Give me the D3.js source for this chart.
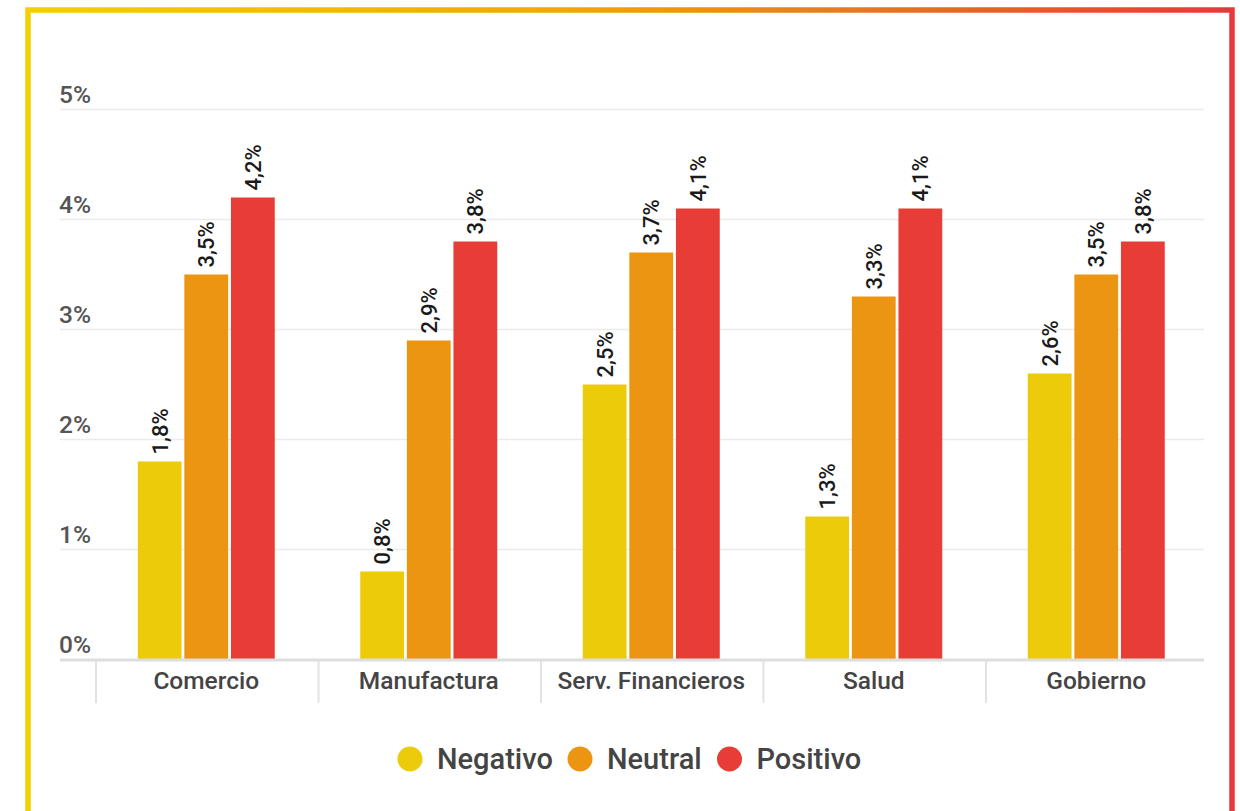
<!DOCTYPE html>
<meta charset="utf-8">
<style>
  body { margin: 0; background: #fff; }
  text { font-family: Roboto, sans-serif; font-weight: 500; }
  .tick-label { font-size: 24.5px; fill: #555; }
  .cat-label { font-size: 24.5px; fill: #444; text-anchor: middle; }
  .val-label { font-size: 22px; fill: #1a1a1a; }
  .legend-label { font-size: 29px; fill: #444; }
</style>
<body>
<script src="https://d3js.org/d3.v7.min.js"></script>
<script>

var width = 1240,
    height = 811;

var categories = ["Comercio", "Manufactura", "Serv. Financieros", "Salud", "Gobierno"];
var series = ["Negativo", "Neutral", "Positivo"];
var negativo = [1.8, 0.8, 2.5, 1.3, 2.6];
var neutral = [3.5, 2.9, 3.7, 3.3, 3.5];
var positivo = [4.2, 3.8, 4.1, 4.1, 3.8];
var yTicks = [0, 1, 2, 3, 4, 5];
var colors = ["#ECCB0B", "#EB9512", "#E83D36"];

var values = [negativo, neutral, positivo];

var svg = d3.select("body").append("svg")
  .attr("width", width)
  .attr("height", height);

// frame with gradient border
var grad = svg.append("defs").append("linearGradient")
  .attr("id", "frame")
  .attr("x1", "0%").attr("x2", "100%")
  .attr("y1", "0%").attr("y2", "0%");
grad.append("stop").attr("offset", "0%").attr("stop-color", "#F2D000");
grad.append("stop").attr("offset", "45%").attr("stop-color", "#F0A700");
grad.append("stop").attr("offset", "100%").attr("stop-color", "#E8383A");

svg.append("rect")
  .attr("x", 28)
  .attr("y", 10)
  .attr("width", 1204)
  .attr("height", 860)
  .attr("fill", "none")
  .attr("stroke", "url(#frame)")
  .attr("stroke-width", 5.5);

var y = d3.scaleLinear()
  .domain([0, 5])
  .range([659.5, 109.5]);

var x0 = d3.scaleBand()
  .domain(categories)
  .range([95, 1207.5]);

var x1 = d3.scaleBand()
  .domain(series)
  .range([0, 137])
  .paddingInner(0.06);

var groupOffset = (x0.bandwidth() - x1.range()[1]) / 2;

// gridlines and y labels
svg.selectAll(".grid")
  .data(yTicks.filter(function(d){ return d > 0; }))
  .enter()
  .append("line")
    .attr("x1", 60)
    .attr("x2", 1204)
    .attr("y1", function(d){ return y(d); })
    .attr("y2", function(d){ return y(d); })
    .attr("stroke", "#ebebeb")
    .attr("stroke-width", 1.5);

svg.selectAll(".tick-label")
  .data(yTicks)
  .enter()
  .append("text")
    .attr("class", "tick-label")
    .attr("x", 59)
    .attr("y", function(d){ return y(d) - 7; })
    .text(function(d){ return d + "%"; });

// bars
var groups = svg.selectAll(".group")
  .data(categories)
  .enter()
  .append("g")
    .attr("transform", function(d){
      return "translate(" + (x0(d) + groupOffset) + ",0)";
    });

groups.selectAll("rect")
  .data(function(d, i){
    return series.map(function(s, j){ return { s: s, v: values[j][i], c: colors[j] }; });
  })
  .enter()
  .append("rect")
    .attr("x", function(d){ return x1(d.s); })
    .attr("width", x1.bandwidth())
    .attr("y", function(d){ return y(d.v); })
    .attr("height", function(d){ return y(0) - y(d.v); })
    .attr("fill", function(d){ return d.c; });

groups.selectAll(".val-label")
  .data(function(d, i){
    return series.map(function(s, j){ return { s: s, v: values[j][i] }; });
  })
  .enter()
  .append("text")
    .attr("class", "val-label")
    .attr("transform", function(d){
      var cx = x1(d.s) + x1.bandwidth() / 2 + 8;
      return "translate(" + cx + "," + (y(d.v) - 7) + ") rotate(-90)";
    })
    .text(function(d){ return d3.format(".1f")(d.v).replace(".", ",") + "%"; });

// baseline and category separators
svg.append("line")
  .attr("x1", 60)
  .attr("x2", 1204)
  .attr("y1", 660)
  .attr("y2", 660)
  .attr("stroke", "#dedede")
  .attr("stroke-width", 3);

svg.selectAll(".sep")
  .data(categories)
  .enter()
  .append("line")
    .attr("x1", function(d){ return x0(d) + 1; })
    .attr("x2", function(d){ return x0(d) + 1; })
    .attr("y1", 661)
    .attr("y2", 703)
    .attr("stroke", "#e2e2e2")
    .attr("stroke-width", 2);

svg.selectAll(".cat-label")
  .data(categories)
  .enter()
  .append("text")
    .attr("class", "cat-label")
    .attr("x", function(d){ return x0(d) + x0.bandwidth() / 2; })
    .attr("y", 689)
    .text(function(d){ return d; });

// legend
var legendX = [410, 580, 729.5];

var legend = svg.selectAll(".legend")
  .data(series)
  .enter()
  .append("g")
    .attr("transform", function(d, i){ return "translate(" + legendX[i] + ",759)"; });

legend.append("circle")
  .attr("r", 12.5)
  .attr("fill", function(d, i){ return colors[i]; });

legend.append("text")
  .attr("class", "legend-label")
  .attr("x", 27)
  .attr("y", 10)
  .text(function(d){ return d; });

</script>
